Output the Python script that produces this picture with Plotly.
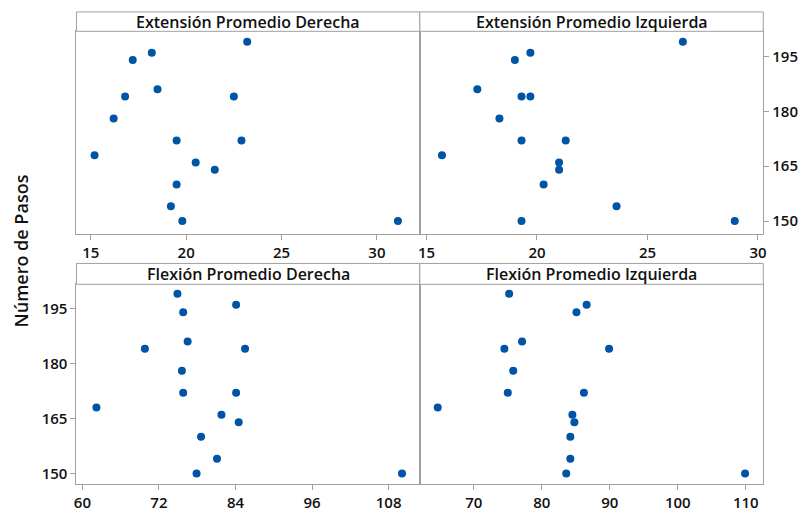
import plotly.graph_objects as go

# Data (16 subjects)
pasos = [199, 196, 194, 186, 184, 184, 178, 172, 172, 168, 166, 164, 160, 154, 150, 150]

ext_der = [23.2, 18.2, 17.2, 18.5, 16.8, 22.5, 16.2, 19.5, 22.9, 15.2, 20.5, 21.5, 19.5, 19.2, 19.8, 31.1]
ext_izq = [26.6, 19.7, 19.0, 17.3, 19.3, 19.7, 18.3, 19.3, 21.3, 15.7, 21.0, 21.0, 20.3, 23.6, 19.3, 28.95]
flex_der = [74.9, 84.1, 75.8, 76.5, 69.8, 85.5, 75.6, 75.8, 84.1, 62.2, 81.8, 84.5, 78.6, 81.1, 77.9, 110.1]
flex_izq = [75.2, 86.6, 85.1, 77.1, 74.5, 89.9, 75.8, 75.0, 86.2, 64.7, 84.5, 84.8, 84.2, 84.2, 83.6, 109.9]

titles = ["Extensión Promedio Derecha", "Extensión Promedio Izquierda",
          "Flexión Promedio Derecha", "Flexión Promedio Izquierda"]
series = [ext_der, ext_izq, flex_der, flex_izq]
xticks = [[15, 20, 25, 30], [15, 20, 25, 30], [60, 72, 84, 96, 108], [70, 80, 90, 100, 110]]
xranges = [[14.25, 32.25], [14.7, 30.24], [59.07, 112.9], [62.07, 112.58]]
yticks = [150, 165, 180, 195]

W, H = 804, 512
FONT = "Open Sans"
GRAY = "#a0a0a0"
DOT = "#0054A6"
TXT = "#111111"

# panel geometry in pixels: (x0, x1, ytop, ybottom, strip_top)
panels = [
    (74, 420, 31.5, 235, 12),
    (420, 766, 31.5, 235, 12),
    (74, 420, 286, 487.3, 265),
    (420, 766, 286, 487.3, 265),
]
yranges = [[146.55, 201.85], [146.55, 201.85], [147.0, 201.6], [147.0, 201.6]]

fig = go.Figure()
layout = dict(width=W, height=H, margin=dict(l=0, r=0, t=0, b=0),
              paper_bgcolor="white", plot_bgcolor="white", showlegend=False,
              font=dict(family=FONT, color=TXT))
shapes = []
annotations = []
tickfont = dict(size=15, family=FONT, color=TXT, weight=600)

for i, (x0, x1, yt, yb, st) in enumerate(panels):
    n = "" if i == 0 else str(i + 1)
    fig.add_trace(go.Scatter(x=series[i], y=pasos, mode="markers",
                             marker=dict(color=DOT, size=8, line=dict(width=0)),
                             xaxis="x" + n, yaxis="y" + n))
    xd = [x0 / W, x1 / W]
    yd = [1 - yb / H, 1 - yt / H]
    layout["xaxis" + n] = dict(domain=xd, anchor="y" + n, range=xranges[i],
                               tickvals=xticks[i], ticks="outside", ticklen=5,
                               tickcolor=GRAY, showline=True, linecolor=GRAY,
                               linewidth=1, mirror=True, showgrid=False, zeroline=False,
                               tickfont=tickfont)
    ydict = dict(domain=yd, anchor="x" + n, range=yranges[i], showline=True,
                 linecolor=GRAY, linewidth=1, mirror=True, showgrid=False,
                 zeroline=False, tickvals=yticks, tickfont=tickfont)
    if i == 1:
        ydict.update(side="right", ticks="outside", ticklen=5, tickcolor=GRAY)
    elif i == 2:
        ydict.update(side="left", ticks="outside", ticklen=5, tickcolor=GRAY)
    else:
        ydict.update(showticklabels=False, ticks="")
    layout["yaxis" + n] = ydict
    # strip
    shapes.append(dict(type="rect", xref="paper", yref="paper",
                       x0=x0 / W, x1=x1 / W, y0=1 - yt / H, y1=1 - st / H,
                       line=dict(color=GRAY, width=1), fillcolor="white", layer="above"))
    annotations.append(dict(text=titles[i], xref="paper", yref="paper",
                            x=(x0 + x1) / 2 / W, y=1 - (st + yt) / 2 / H,
                            xanchor="center", yanchor="middle", showarrow=False,
                            font=dict(size=16, family=FONT, color=TXT, weight=600)))

annotations.append(dict(text="Número de Pasos", xref="paper", yref="paper",
                        x=18 / W, y=1 - 252 / H, textangle=-90, showarrow=False,
                        xanchor="center", yanchor="middle",
                        font=dict(size=18, family=FONT, color=TXT, weight=600)))

layout["shapes"] = shapes
layout["annotations"] = annotations
fig.update_layout(**layout)
fig.write_html("out.html")
